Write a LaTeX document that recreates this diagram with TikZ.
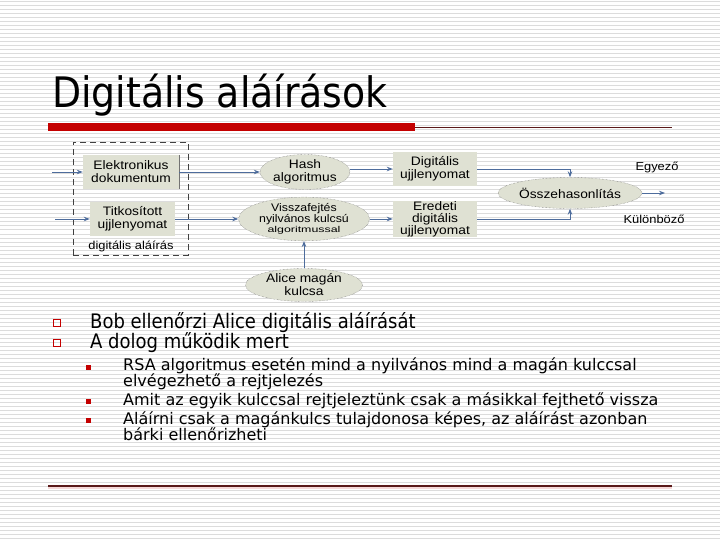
\documentclass[tikz,border=0pt]{standalone}
\usepackage{fontspec}
\setmainfont{Liberation Sans}
\newfontfamily\diagfont[FakeStretch=1.12]{Liberation Sans}
\newfontfamily\bodyfont{DejaVu Sans Condensed}
\newfontfamily\subfont{DejaVu Sans}
\usetikzlibrary{shapes.geometric,arrows.meta}
\definecolor{boxfill}{HTML}{DFE1D3}
\definecolor{arrowblue}{HTML}{4D6C9C}
\definecolor{titlered}{HTML}{C40000}
\definecolor{stripe}{HTML}{DCDCDC}
\definecolor{darkred}{HTML}{5A1A1A}
\newcommand{\tightlines}{\setlength{\lineskiplimit}{-20pt}}
\begin{document}
\begin{tikzpicture}[x=1pt,y=-1pt,
  stripeline/.style={draw=stripe,line width=1pt},
  box/.style={fill=boxfill,inner sep=0pt,align=center,font=\diagfont\fontsize{12.3}{13}\selectfont},
  oval/.style={ellipse,fill=boxfill,draw=black!60,densely dotted,inner sep=0pt,align=center,font=\diagfont\fontsize{12.3}{13}\selectfont},
  conn/.style={draw=arrowblue,line width=0.9pt,-{Stealth[length=6pt,width=4.5pt]}},
  lbl/.style={inner sep=0pt,font=\diagfont\fontsize{11.5}{12.5}\selectfont},
  hbullet/.style={draw=titlered,line width=0.6pt,minimum size=7pt,inner sep=0pt},
  fbullet/.style={fill=titlered,minimum size=5pt,inner sep=0pt},
  lvlone/.style={anchor=west,inner sep=0pt,font=\bodyfont\fontsize{20}{21}\selectfont},
  lvltwo/.style={anchor=north west,inner sep=0pt,align=left,font=\subfont\fontsize{16}{15.5}\selectfont\tightlines}
]
\useasboundingbox (0,0) rectangle (720,540);
\fill[white] (0,0) rectangle (720,540);
\foreach \yy in {2,6,...,538} \draw[stripeline] (0,\yy) -- (720,\yy);

% title
\node[anchor=base west,inner sep=0pt,font=\bodyfont\fontsize{42}{46}\selectfont] (title) at (52,108) {Digitális aláírások};
\fill[titlered] (48,123) rectangle (415,131);
\draw[darkred,line width=0.8pt] (415,127) -- (672,127);

% diagram
\node[draw=black!75,dash pattern=on 6pt off 4pt,line width=0.8pt,minimum width=115pt,minimum height=113pt,inner sep=0pt] (sig) at (130.5,198.5) {};
\node[lbl] (siglab) at (131,246) {digitális aláírás};
\node[box,minimum width=96pt,minimum height=34pt] (ed) at (131,172) {Elektronikus\\dokumentum};
\draw[black!55,line width=1.2pt] (ed.north east) -- (ed.south east);
\node[box,minimum width=85pt,minimum height=34pt] (tu) at (132.5,219) {Titkosított\\ujjlenyomat};
\node[oval,minimum width=86pt,minimum height=35pt] (hash) at (305,172) {Hash\\algoritmus};
\node[oval,minimum width=131pt,minimum height=39pt,font=\diagfont\fontsize{11}{10.5}\selectfont] (vissza) at (304,219) {Visszafejtés\\nyilvános kulcsú\\\scalebox{1.3}[1]{\fontsize{8.5}{9}\selectfont algoritmussal}};
\node[oval,minimum width=117pt,minimum height=33pt] (alice) at (304,285) {Alice magán\\kulcsa};
\node[box,minimum width=84pt,minimum height=34pt] (du) at (435,169) {Digitális\\ujjlenyomat};
\node[box,minimum width=84pt,minimum height=34pt,font=\diagfont\fontsize{12.3}{12}\selectfont] (eu) at (435,219) {Eredeti\\digitális\\ujjlenyomat};
\node[oval,minimum width=129pt,minimum height=31pt] (ossz) at (570,193) {Összehasonlítás};
\node[lbl] (egy) at (657,167) {Egyező};
\node[lbl] (kul) at (654,219) {Különböző};

\coordinate (in1) at (52,172);
\coordinate (in2) at (55,219);
\coordinate (out) at (665,193);
\draw[conn] (in1) -- (ed.west);
\draw[conn] (in2) -- (tu.west);
\draw[conn] (ed.east) -- (hash.west);
\draw[conn] (tu.east) -- (tu.east -| vissza.west);
\draw[conn] (hash.east |- du.west) -- (du.west);
\draw[conn] (vissza.east) -- (eu.west);
\draw[conn] (du.east) -| (ossz.north);
\draw[conn] (eu.east) -| (ossz.south);
\draw[conn] (alice.north) -- (vissza.south);
\draw[conn] (ossz.east) -- (out);

% bullets
\node[hbullet] (b1) at (57,323) {};
\node[hbullet] (b2) at (57,343) {};
\node[lvlone] (t1) at (90,323) {Bob ellenőrzi Alice digitális aláírását};
\node[lvlone] (t2) at (90,343) {A dolog működik mert};
\node[fbullet] (s1) at (88,367) {};
\node[fbullet] (s2) at (88,401) {};
\node[fbullet] (s3) at (88,420) {};
\node[lvltwo] (u1) at (123,358) {RSA algoritmus esetén mind a nyilvános mind a magán kulccsal\\elvégezhető a rejtjelezés};
\node[lvltwo] (u2) at (123,393) {Amit az egyik kulccsal rejtjeleztünk csak a másikkal fejthető vissza};
\node[lvltwo] (u3) at (123,412) {Aláírni csak a magánkulcs tulajdonosa képes, az aláírást azonban\\bárki ellenőrizheti};

% bottom rule
\fill[titlered!15] (48,486) rectangle (672,489);
\draw[darkred,line width=1.2pt] (48,486) -- (672,486);
\end{tikzpicture}
\end{document}
